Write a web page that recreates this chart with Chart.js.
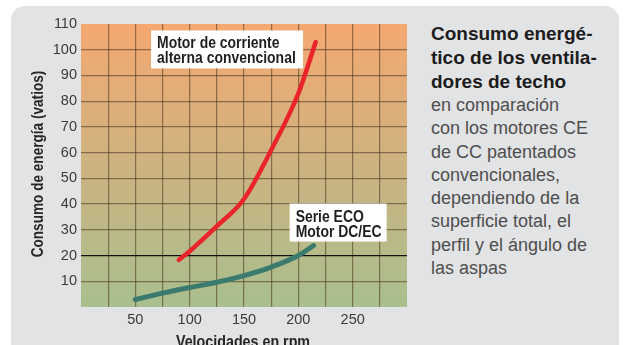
<!DOCTYPE html>
<html lang="es">
<head>
    <meta charset="UTF-8">
    <title>Consumo energético</title>
    <script src="https://cdn.jsdelivr.net/npm/chart.js"></script>
    <style>
        * {
            margin: 0;
            padding: 0;
            box-sizing: border-box;
        }
        body {
            width: 627px;
            height: 345px;
            background: #ffffff;
            overflow: hidden;
            position: relative;
            font-family: "Liberation Sans", Arial, sans-serif;
        }
        .panel {
            position: absolute;
            left: 11px;
            top: 6px;
            width: 608px;
            height: 370px;
            background: #e2e3e5;
            border-radius: 14px;
        }
        .chart-box {
            position: absolute;
            left: 0;
            top: 0;
            width: 420px;
            height: 345px;
        }
        .caption {
            position: absolute;
            left: 431px;
            top: 22px;
            width: 190px;
        }
        .caption h3 {
            font-size: 19px;
            line-height: 24px;
            font-weight: bold;
            color: #1c1c1c;
        }
        .caption p {
            font-size: 18px;
            line-height: 23.3px;
            color: #4e4e4e;
        }
    </style>
</head>
<body>
    <div class="panel"></div>
    <div class="chart-box">
        <canvas id="fanChart" width="420" height="345"></canvas>
    </div>
    <div class="caption">
        <h3>Consumo energé-<br>tico de los ventila-<br>dores de techo</h3>
        <p>en comparación<br>con los motores CE<br>de CC patentados<br>convencionales,<br>dependiendo de la<br>superficie total, el<br>perfil y el ángulo de<br>las aspas</p>
    </div>

    <script>
        // rpm / watts
        const rpmAC = [90, 100, 125, 150, 175, 200, 216];
        const wattsAC = [18.3, 21.7, 31.4, 42, 61, 83, 103];
        const rpmEC = [50, 75, 100, 125, 150, 175, 200, 214];
        const wattsEC = [2.9, 5.4, 7.6, 9.6, 12.2, 15.5, 20, 23.9];

        const xLabels = [50, 100, 150, 200, 250];
        const yLabels = [10, 20, 30, 40, 50, 60, 70, 80, 90, 100, 110];

        const labelAC = ["Motor de corriente", "alterna convencional"];
        const labelEC = ["Serie ECO", "Motor DC/EC"];
        const titleX = "Velocidades en rpm";
        const titleY = "Consumo de energía (vatios)";

        const toPoints = (xs, ys) => xs.map((x, i) => ({ x: x, y: ys[i] }));

        const gridColor = "rgba(70, 50, 30, 0.55)";
        const narrowBold = "'Liberation Sans', Arial, sans-serif";

        // bold text squeezed horizontally to look like a condensed face
        function condensedText(ctx, text, x, y, sx) {
            ctx.save();
            ctx.translate(x, y);
            ctx.scale(sx, 1);
            ctx.fillText(text, 0, 0);
            ctx.restore();
        }

        const backdrop = {
            id: "backdrop",
            beforeDraw(chart) {
                const { ctx, chartArea: a } = chart;
                const g = ctx.createLinearGradient(0, a.top, 0, a.bottom);
                g.addColorStop(0, "#f5a870");
                g.addColorStop(0.5, "#cdb381");
                g.addColorStop(1, "#a9bf8e");
                ctx.save();
                ctx.fillStyle = g;
                ctx.fillRect(a.left, a.top, a.right - a.left, a.bottom - a.top);
                ctx.restore();
            }
        };

        const labels = {
            id: "labels",
            afterDatasetsDraw(chart) {
                const { ctx, scales: { x, y } } = chart;
                const boxes = [
                    { lines: labelAC, rpm: 64.5, watts: 107.5, w: 152, h: 38 },
                    { lines: labelEC, rpm: 192, watts: 40.2, w: 97, h: 38 }
                ];
                ctx.save();
                boxes.forEach(b => {
                    const left = x.getPixelForValue(b.rpm);
                    const top = y.getPixelForValue(b.watts);
                    ctx.fillStyle = "#ffffff";
                    ctx.fillRect(left, top, b.w, b.h);
                    ctx.fillStyle = "#1e1e1e";
                    ctx.font = "bold 17px " + narrowBold;
                    ctx.textBaseline = "alphabetic";
                    b.lines.forEach((t, i) => condensedText(ctx, t, left + 6, top + 18 + i * 15, 0.82));
                });
                ctx.restore();
            },
            afterDraw(chart) {
                const { ctx } = chart;
                ctx.save();
                ctx.fillStyle = "#262626";
                ctx.font = "bold 17px " + narrowBold;
                ctx.textAlign = "center";
                ctx.textBaseline = "alphabetic";
                condensedText(ctx, titleX, 243, 347, 0.84);
                ctx.translate(43, 164);
                ctx.rotate(-Math.PI / 2);
                condensedText(ctx, titleY, 0, 0, 0.8);
                ctx.restore();
            }
        };

        new Chart(document.getElementById("fanChart").getContext("2d"), {
            type: "line",
            data: {
                datasets: [{
                    label: labelAC.join(" "),
                    data: toPoints(rpmAC, wattsAC),
                    borderColor: "#e9242b",
                    borderWidth: 4.5,
                    borderCapStyle: "round",
                    cubicInterpolationMode: "monotone",
                    pointRadius: 0
                }, {
                    label: labelEC.join(" "),
                    data: toPoints(rpmEC, wattsEC),
                    borderColor: "#3b7b6e",
                    borderWidth: 5,
                    borderCapStyle: "round",
                    cubicInterpolationMode: "monotone",
                    pointRadius: 0
                }]
            },
            options: {
                responsive: false,
                animation: false,
                layout: { padding: { top: 24, right: 13, left: 0, bottom: 0 } },
                plugins: {
                    legend: { display: false },
                    tooltip: { enabled: false }
                },
                scales: {
                    x: {
                        type: "linear",
                        min: 0,
                        max: 300,
                        afterFit: s => { s.height = 38; },
                        border: { display: false },
                        grid: {
                            drawTicks: false,
                            lineWidth: 1.2,
                            color: c => (c.tick.value === 0 || c.tick.value === 300) ? "transparent" : gridColor
                        },
                        ticks: {
                            stepSize: 25,
                            padding: 4,
                            maxRotation: 0,
                            autoSkip: false,
                            color: "#3a3a3a",
                            font: { family: "'Liberation Sans', Arial, sans-serif", size: 14.5 },
                            callback: v => xLabels.includes(v) ? String(v) : ""
                        }
                    },
                    y: {
                        min: 0,
                        max: 110,
                        afterFit: s => { s.width = 81; },
                        border: { display: false },
                        grid: {
                            drawTicks: false,
                            lineWidth: 1.2,
                            color: c => c.tick.value === 20 ? "#111111" :
                                (c.tick.value === 0 || c.tick.value === 110) ? "transparent" : gridColor
                        },
                        ticks: {
                            stepSize: 10,
                            padding: 4,
                            color: "#3a3a3a",
                            font: { family: "'Liberation Sans', Arial, sans-serif", size: 14.5 },
                            callback: v => yLabels.includes(v) ? String(v) : ""
                        }
                    }
                }
            },
            plugins: [backdrop, labels]
        });
    </script>
</body>
</html>
